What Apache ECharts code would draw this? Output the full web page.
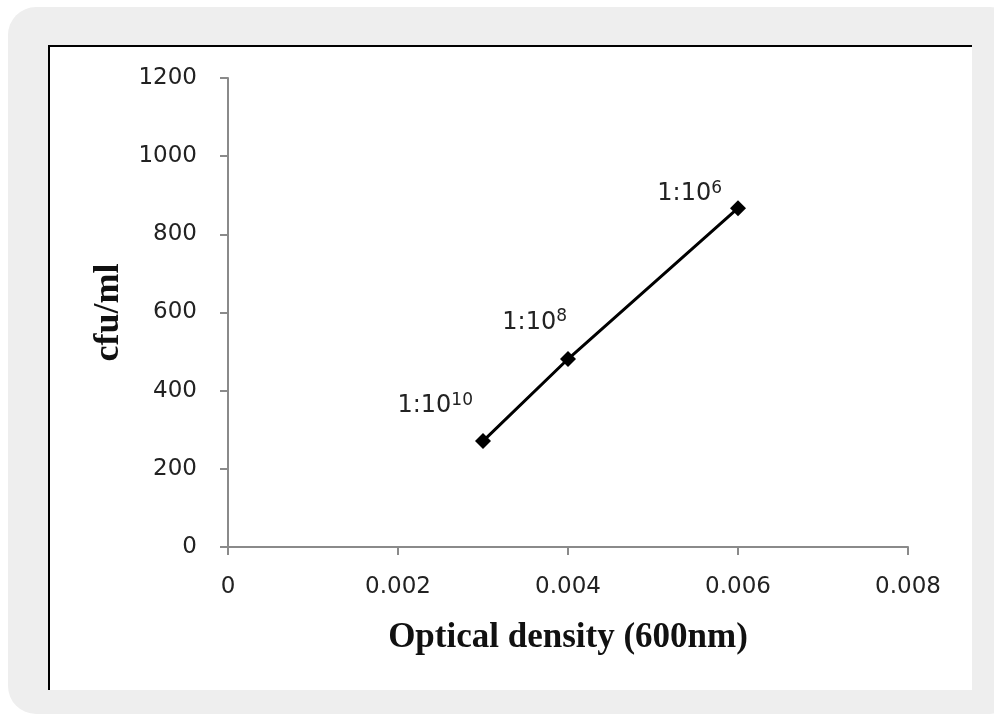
<!DOCTYPE html>
<html>
<head>
<meta charset="utf-8">
<script src="https://cdn.jsdelivr.net/npm/echarts@6/dist/echarts.min.js"></script>
<style>
  html, body { margin: 0; padding: 0; background: #fff; width: 994px; height: 722px; overflow: hidden; }
  .outer { position: absolute; left: 8px; top: 7px; width: 1010px; height: 707px; background: #eeeeee; border-radius: 28px; }
  .inner { position: absolute; left: 48px; top: 45px; width: 924px; height: 645px; background: #fff; border-top: 2px solid #000; border-left: 2px solid #000; box-sizing: border-box; }
  #chart { position: absolute; left: 0; top: 0; width: 994px; height: 722px; }
</style>
</head>
<body>
<div class="outer"></div>
<div class="inner"></div>
<div id="chart"></div>
<script>
// optical density (600nm) vs cfu/ml
var density = [0.003, 0.004, 0.006];
var cfu = [271, 481, 867];
var dilution = ['10', '8', '6'];
var labelShift = [[-2, -35], [7, -36], [-8, -14]];

var points = density.map(function (d, i) {
  return {
    value: [d, cfu[i]],
    label: {
      show: true,
      position: 'left',
      distance: 0,
      offset: labelShift[i],
      formatter: '{a|1:10}{b|' + dilution[i] + '}'
    }
  };
});

var myChart = echarts.init(document.getElementById('chart'));
myChart.setOption({
  backgroundColor: 'transparent',
  animation: false,
  grid: { left: 228, top: 78, right: 86, bottom: 175 },
  xAxis: {
    type: 'value', min: 0, max: 0.008, interval: 0.002,
    name: 'Optical density (600nm)', nameLocation: 'middle', nameGap: 73,
    nameTextStyle: { fontFamily: 'Liberation Serif', fontWeight: 'bold', fontSize: 35, color: '#111' },
    axisLine: { lineStyle: { color: '#8a8a8a', width: 2 } },
    axisTick: { show: true, length: 8, lineStyle: { color: '#8a8a8a', width: 2 } },
    axisLabel: {
      margin: 29, fontFamily: 'DejaVu Sans', fontSize: 23, color: '#222',
      formatter: function (v) { return v === 0 ? '0' : v.toFixed(3); }
    },
    splitLine: { show: false }
  },
  yAxis: {
    type: 'value', min: 0, max: 1200, interval: 200,
    name: 'cfu/ml', nameLocation: 'middle', nameGap: 101, nameRotate: 90,
    nameTextStyle: { fontFamily: 'Liberation Serif', fontWeight: 'bold', fontSize: 36, color: '#111' },
    axisLine: { show: true, lineStyle: { color: '#8a8a8a', width: 2 } },
    axisTick: { show: true, length: 8, lineStyle: { color: '#8a8a8a', width: 2 } },
    axisLabel: {
      margin: 31, fontFamily: 'DejaVu Sans', fontSize: 23, color: '#222',
      formatter: function (v) { return String(v); }
    },
    splitLine: { show: false }
  },
  series: [{
    type: 'line',
    data: points,
    symbol: 'diamond',
    symbolSize: 16,
    itemStyle: { color: '#000' },
    lineStyle: { color: '#000', width: 3 },
    label: {
      rich: {
        a: { fontFamily: 'DejaVu Sans', fontSize: 24, color: '#222' },
        b: { fontFamily: 'DejaVu Sans', fontSize: 17, color: '#222', padding: [0, 0, 12, 0] }
      }
    }
  }]
});
</script>
</body>
</html>
